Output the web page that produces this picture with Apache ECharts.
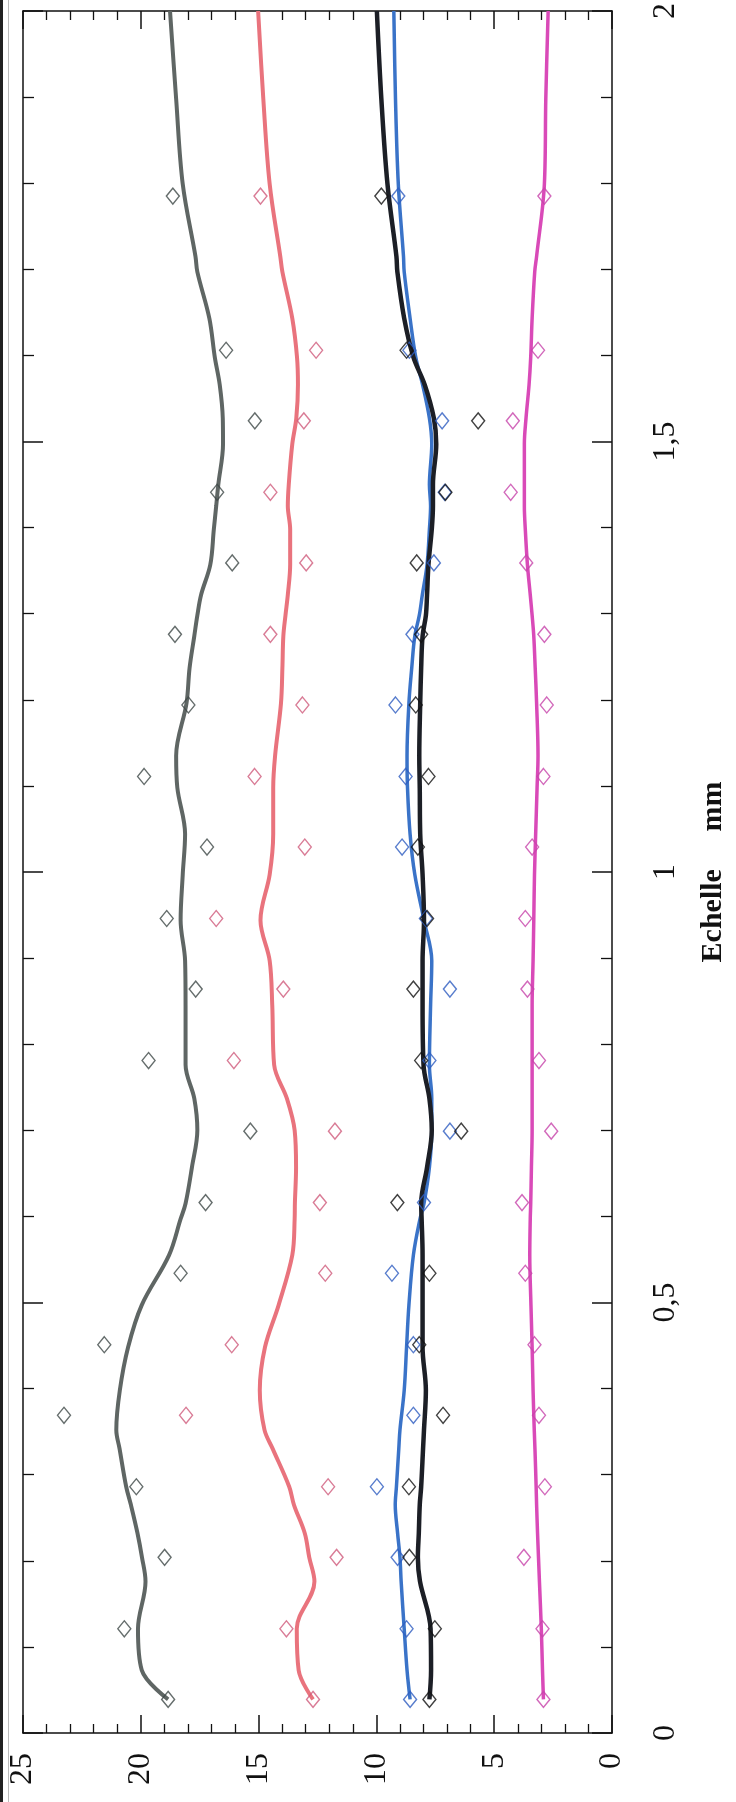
<!DOCTYPE html>
<html>
<head>
<meta charset="utf-8">
<script src="https://cdn.jsdelivr.net/npm/echarts@6/dist/echarts.min.js"></script>
<style>
html,body{margin:0;padding:0;background:#fff;}
#c{width:736px;height:1802px;}
</style>
</head>
<body>
<div id="c"></div>
<script>
// Echelle (mm) positions of the measured points
var markerPos = [0.039, 0.121, 0.204, 0.286, 0.369, 0.451, 0.534, 0.616, 0.699, 0.781, 0.864, 0.946, 1.029, 1.111, 1.194, 1.276, 1.359, 1.441, 1.524, 1.606, 1.785];
var grayPts    = [18.84, 20.70, 18.99, 20.19, 23.26, 21.55, 18.31, 17.25, 15.35, 19.67, 17.67, 18.90, 17.19, 19.86, 17.98, 18.55, 16.12, 16.76, 15.16, 16.38, 18.64];
var pinkPts    = [12.69, 13.82, 11.69, 12.05, 18.08, 16.14, 12.17, 12.40, 11.76, 16.05, 13.95, 16.80, 13.04, 15.17, 13.14, 14.50, 12.98, 14.50, 13.08, 12.56, 14.92];
var bluePts    = [8.57, 8.72, 9.10, 9.98, 8.43, 8.43, 9.34, 7.98, 6.88, 7.75, 6.88, 7.90, 8.91, 8.76, 9.19, 8.47, 7.56, 7.10, 7.21, 8.60, 9.07];
var blackPts   = [7.75, 7.52, 8.60, 8.62, 7.17, 8.18, 7.75, 9.11, 6.40, 8.10, 8.43, 7.85, 8.24, 7.79, 8.33, 8.10, 8.29, 7.07, 5.68, 8.72, 9.79];
var magentaPts = [2.91, 2.95, 3.74, 2.85, 3.10, 3.29, 3.68, 3.82, 2.58, 3.10, 3.59, 3.68, 3.39, 2.91, 2.77, 2.87, 3.64, 4.30, 4.21, 3.14, 2.87];

// smoothed curves
var linePos = [0.039, 0.073, 0.121, 0.176, 0.204, 0.232, 0.265, 0.286, 0.33, 0.352, 0.398, 0.448, 0.497, 0.555, 0.597, 0.615, 0.657, 0.70, 0.737, 0.776, 0.845, 0.897, 0.944, 0.997, 1.044, 1.098, 1.135, 1.196, 1.237, 1.274, 1.298, 1.322, 1.357, 1.398, 1.425, 1.45, 1.497, 1.527, 1.566, 1.598, 1.643, 1.697, 1.715, 1.799, 1.898, 2.0];
var grayLine = [18.84, 19.96, 20.12, 19.8, 19.95, 20.14, 20.42, 20.62, 20.9, 21.04, 20.89, 20.54, 19.96, 18.8, 18.31, 18.1, 17.83, 17.6, 17.73, 18.1, 18.1, 18.12, 18.31, 18.22, 18.12, 18.45, 18.5, 18.06, 17.93, 17.73, 17.6, 17.44, 17.05, 16.9, 16.8, 16.71, 16.51, 16.52, 16.65, 16.86, 17.09, 17.6, 17.68, 18.22, 18.5, 18.76];
var pinkLine = [12.69, 13.3, 13.38, 12.63, 12.85, 13.04, 13.5, 13.7, 14.4, 14.75, 14.95, 14.73, 14.15, 13.57, 13.47, 13.46, 13.41, 13.47, 13.8, 14.34, 14.42, 14.53, 14.92, 14.53, 14.38, 14.38, 14.3, 14.05, 13.99, 13.95, 13.86, 13.76, 13.66, 13.66, 13.76, 13.72, 13.57, 13.4, 13.33, 13.37, 13.57, 13.99, 14.08, 14.53, 14.8, 15.02];
var blueLine = [8.57, 8.7, 8.82, 8.95, 9.0, 9.1, 9.2, 9.15, 9.05, 9.0, 8.82, 8.72, 8.62, 8.43, 8.15, 7.98, 7.75, 7.65, 7.65, 7.75, 7.7, 7.65, 7.98, 8.37, 8.57, 8.68, 8.7, 8.62, 8.5, 8.37, 8.18, 8.05, 7.85, 7.75, 7.7, 7.75, 7.65, 7.75, 8.04, 8.33, 8.57, 8.82, 8.85, 9.07, 9.19, 9.26];
var blackLine = [7.75, 7.68, 7.7, 8.15, 8.24, 8.2, 8.16, 8.1, 8.02, 7.98, 7.9, 8.04, 8.04, 8.04, 8.08, 8.1, 7.85, 7.65, 7.75, 8.0, 8.04, 8.04, 7.98, 8.04, 8.14, 8.16, 8.18, 8.14, 8.1, 8.04, 7.9, 7.85, 7.79, 7.65, 7.6, 7.6, 7.46, 7.56, 7.95, 8.43, 8.82, 9.11, 9.15, 9.53, 9.79, 9.98];
var magentaLine = [2.91, 2.95, 3.0, 3.08, 3.12, 3.16, 3.2, 3.22, 3.27, 3.3, 3.35, 3.39, 3.44, 3.49, 3.47, 3.45, 3.42, 3.39, 3.39, 3.39, 3.39, 3.35, 3.32, 3.29, 3.24, 3.18, 3.14, 3.2, 3.26, 3.32, 3.39, 3.47, 3.59, 3.68, 3.72, 3.72, 3.72, 3.65, 3.52, 3.45, 3.39, 3.28, 3.2, 2.87, 2.81, 2.71];

var axisName = 'Echelle     mm';

function pairs(vals, pos) { return vals.map(function (v, i) { return [v, pos[i]]; }); }

var lineColors = { gray: '#5f6664', pink: '#e9737d', blue: '#3a73c8', black: '#1c1f26', magenta: '#d94ab8' };
var markColors = { gray: '#3e4847', pink: '#cf5b7c', blue: '#2e5cc0', black: '#111111', magenta: '#c743aa' };

function lineSeries(name, vals, width) {
  return { type: 'line', data: pairs(vals, linePos), smooth: 0.35, showSymbol: false, symbol: 'none',
    lineStyle: { color: lineColors[name], width: width }, z: 3, silent: true };
}
function markSeries(name, vals) {
  return { type: 'scatter', data: pairs(vals, markerPos), symbol: 'diamond', symbolSize: [13, 16],
    itemStyle: { color: 'rgba(255,255,255,0)', borderColor: markColors[name], borderWidth: 1.4 }, z: 4, silent: true };
}

var tickStyle = { color: '#111', width: 1.5 };
var labelFont = { fontFamily: 'Liberation Serif', fontSize: 32, color: '#111' };

function xAx(pos, showLabel) {
  return {
    type: 'value', min: 0, max: 25, interval: 5, inverse: true, position: pos,
    axisLine: { show: true, onZero: false, lineStyle: tickStyle },
    axisTick: { show: true, inside: true, length: 18, lineStyle: tickStyle },
    minorTick: { show: true, splitNumber: 5, length: 9, lineStyle: { color: '#111', width: 1.3 } },
    splitLine: { show: false },
    axisLabel: Object.assign({ show: showLabel, rotate: 90, margin: 20 }, labelFont)
  };
}
function yAx(pos, showLabel) {
  var a = {
    type: 'value', min: 0, max: 2, interval: 0.5, position: pos,
    axisLine: { show: true, onZero: false, lineStyle: tickStyle },
    axisTick: { show: true, inside: true, length: 20, lineStyle: tickStyle },
    minorTick: { show: true, splitNumber: 5, length: 11, lineStyle: { color: '#111', width: 1.3 } },
    splitLine: { show: false },
    axisLabel: Object.assign({ show: showLabel, rotate: 90, margin: 38, align: 'center', verticalAlign: 'top',
      formatter: function (v) { return String(v).replace('.', ','); } }, labelFont)
  };
  if (showLabel) {
    a.name = axisName; a.nameLocation = 'middle'; a.nameRotate = 90; a.nameGap = 86;
    a.nameTextStyle = { fontFamily: 'Liberation Serif', fontWeight: 'bold', fontSize: 30, color: '#111' };
  }
  return a;
}

var chart = echarts.init(document.getElementById('c'), null, { renderer: 'canvas' });
chart.setOption({
  backgroundColor: '#ffffff',
  animation: false,
  grid: { left: 23, right: 108, top: 9, bottom: 69 },
  xAxis: [xAx('bottom', true), xAx('top', false)],
  yAxis: [yAx('right', true), yAx('left', false)],
  graphic: [
    { type: 'rect', shape: { x: 0, y: 0, width: 3, height: 1802 }, style: { fill: '#222' } },
    { type: 'rect', shape: { x: 8, y: 0, width: 1, height: 1802 }, style: { fill: '#bbb' } }
  ],
  series: [
    lineSeries('gray', grayLine, 4),
    lineSeries('pink', pinkLine, 4),
    lineSeries('magenta', magentaLine, 3.5),
    lineSeries('blue', blueLine, 3.5),
    lineSeries('black', blackLine, 4.5),
    markSeries('gray', grayPts),
    markSeries('pink', pinkPts),
    markSeries('blue', bluePts),
    markSeries('black', blackPts),
    markSeries('magenta', magentaPts)
  ]
});
</script>
</body>
</html>
